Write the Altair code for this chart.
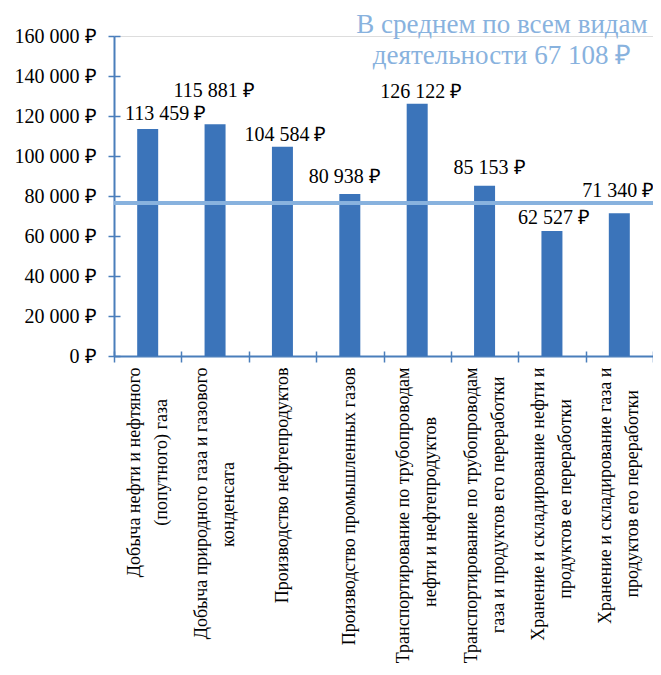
import altair as alt
import pandas as pd

categories = [
    "Добыча нефти и нефтяного\n(попутного) газа",
    "Добыча природного газа и газового\nконденсата",
    "Производство нефтепродуктов",
    "Производство промышленных газов",
    "Транспортирование по трубопроводам\nнефти и нефтепродуктов",
    "Транспортирование по трубопроводам\nгаза и продуктов его переработки",
    "Хранение и складирование нефти и\nпродуктов ее переработки",
    "Хранение и складирование газа и\nпродуктов его переработки",
]
salaries = [113459, 115881, 104584, 80938, 126122, 85153, 62527, 71340]
average_line_value = 76500
annotation_lines = ["В среднем по всем видам", "деятельности 67 108 ₽"]
y_ticks = [0, 20000, 40000, 60000, 80000, 100000, 120000, 140000, 160000]

# label nudges (pixels) so value labels sit as in the original
label_dx = [18, -1, 3, -5, 4, 5, 2, -1]
label_gap = [5, 23, 2, 7, 2, 8, 3, 12]


def centered(cat):
    """Pad the shorter line with no-break spaces so lines look centred
    (a zero-width space at the end keeps the padding from being trimmed)."""
    lines = cat.split("\n")
    if len(lines) == 1:
        return cat
    longest = max(len(l) for l in lines)
    out = []
    for l in lines:
        pad = int(round((longest - len(l)) * 0.9))
        out.append(l + "\u00a0" * pad + ("\u200b" if pad else ""))
    return "\n".join(out)


disp = [centered(c) for c in categories]

df = pd.DataFrame({
    "cat": disp,
    "val": salaries,
    "label": [f"{v:,}".replace(",", " ") + " ₽" for v in salaries],
    "dx": label_dx,
    "gap": label_gap,
})

FONT = "Times New Roman"
AXIS_COLOR = "#4a7ebb"
BAR_COLOR = "#3b74ba"
LIGHT = "#88b2de"
LINE_H = 27

x_scale = alt.Scale(paddingInner=0, paddingOuter=0)
y_scale = alt.Scale(domain=[0, 160000], nice=False)

bars = alt.Chart(df).mark_bar(color=BAR_COLOR, size=21).encode(
    x=alt.X(
        "cat:N",
        sort=disp,
        title=None,
        scale=x_scale,
        axis=alt.Axis(
            labelAngle=-90,
            labelAlign="right",
            labelBaseline="middle",
            labelExpr="split(datum.label, '\\n')",
            labelOffset=alt.condition(
                "indexof(datum.label, '\\n') >= 0",
                alt.value(-LINE_H / 2),
                alt.value(0),
            ),
            labelFont=FONT,
            labelFontSize=18,
            labelLineHeight=LINE_H,
            labelColor="black",
            labelPadding=5,
            labelLimit=400,
            labelOverlap=False,
            domainColor=AXIS_COLOR,
            domainWidth=2,
            tickColor=AXIS_COLOR,
            tickWidth=1.5,
            tickSize=6,
            tickBand="extent",
            grid=False,
        ),
    ),
    y=alt.Y(
        "val:Q",
        scale=y_scale,
        title=None,
        axis=alt.Axis(
            values=y_ticks,
            tickCount=9,
            labelExpr="replace(format(datum.value, ','), ',', ' ') + ' ₽'",
            labelFont=FONT,
            labelFontSize=20,
            labelColor="black",
            labelPadding=12,
            labelOverlap=False,
            domainColor=AXIS_COLOR,
            domainWidth=2,
            tickColor=AXIS_COLOR,
            tickWidth=1.5,
            tickSize=6,
            grid=False,
        ),
    ),
)

# inner halves of the axis ticks (ticks cross the axis lines in the original)
inner_ticks = alt.Chart(df).mark_point(opacity=0).encode(
    x=alt.X(
        "cat:N",
        sort=disp,
        scale=x_scale,
        title=None,
        axis=alt.Axis(
            orient="bottom", offset=-5, tickSize=5, labels=False, domain=False,
            tickColor=AXIS_COLOR, tickWidth=1.5, tickBand="extent", grid=False,
        ),
    ),
    y=alt.Y(
        "val:Q",
        scale=y_scale,
        title=None,
        axis=alt.Axis(
            orient="left", offset=-6, tickSize=6, labels=False, domain=False,
            values=y_ticks, tickColor=AXIS_COLOR, tickWidth=1.5, grid=False,
        ),
    ),
)

label_layers = []
for i in range(len(df)):
    row = df.iloc[i]
    label_layers.append(
        alt.Chart(df.iloc[[i]]).mark_text(
            font=FONT, fontSize=20, color="black", baseline="bottom",
            dx=int(row["dx"]), dy=-int(row["gap"]),
        ).encode(
            x=alt.X("cat:N", sort=disp, scale=x_scale, axis=None),
            y=alt.Y("val:Q", scale=y_scale, axis=None),
            text="label:N",
        )
    )

avg_df = pd.DataFrame({"avg": [average_line_value]})
avg_line = alt.Chart(avg_df).mark_rule(color=LIGHT, strokeWidth=4).encode(
    y=alt.Y("avg:Q", scale=y_scale, axis=None)
)

ann_df = pd.DataFrame({"t": [annotation_lines]})
annotation = alt.Chart(ann_df).mark_text(
    font=FONT, fontSize=27, color=LIGHT, align="center", baseline="top", lineHeight=31
).encode(
    x=alt.value(388),
    y=alt.value(-24),
    text="t",
)

chart = (
    alt.layer(bars, inner_ticks, avg_line, *label_layers, annotation)
    .resolve_axis(x="independent", y="independent")
    .properties(
        width=539,
        height=320,
        autosize=alt.AutoSizeParams(type="none"),
        padding={"left": 106, "top": 28, "right": 0, "bottom": 311},
    )
    .configure_view(stroke=None)
    .configure(background="white")
)

chart.save("out.html", embed_options={"renderer": "svg", "actions": False})
